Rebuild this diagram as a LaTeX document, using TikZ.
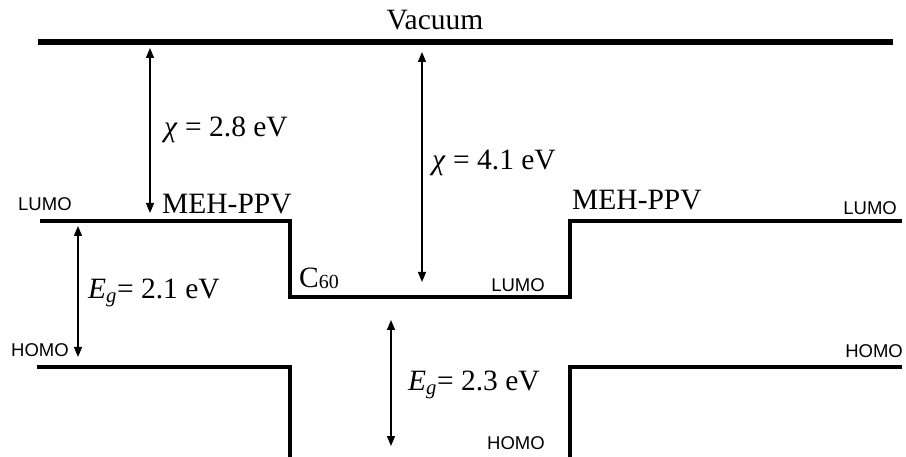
\documentclass[tikz,border=0pt]{standalone}
\usepackage{fontspec}
\setmainfont{Liberation Serif}
\newfontfamily\lvlfont{Liberation Sans}
\usetikzlibrary{arrows.meta}

\tikzset{
  level/.style={line width=3.5pt, line join=miter},
  gap/.style={line width=1.3pt, {Triangle[length=10pt,width=8pt]}-{Triangle[length=10pt,width=8pt]}},
  lbl/.style={font=\fontsize{29.5}{32}\selectfont, inner sep=0pt},
  tag/.style={font=\lvlfont\fontsize{18.5}{20}\selectfont, inner sep=0pt},
}

\begin{document}
\begin{tikzpicture}[x=1pt,y=-1pt]
    \useasboundingbox (0,0) rectangle (906,457);
    \draw[line width=5.5pt] (38,42) -- (893,42);   % vacuum
    \draw[level] (40,221) -- (290,221) -- (290,297) -- (570,297) -- (570,221) -- (902,221);  % LUMO
    \draw[level] (37,367) -- (290,367) -- (290,457);   % HOMO left
    \draw[level] (570,457) -- (570,367) -- (902,367);  % HOMO right

    \node[lbl] (vac) at (435,20) {Vacuum};
    \node[lbl, anchor=west] (chiA) at (164,130) {\textit{χ} = 2.8 eV};
    \node[lbl, anchor=west] (chiB) at (432,163) {\textit{χ} = 4.1 eV};
    \node[lbl, anchor=west] (mehL) at (162,204) {MEH-PPV};
    \node[lbl, anchor=west] (mehR) at (572,200) {MEH-PPV};
    \node[lbl, anchor=west] (cso) at (299,278) {C\raisebox{-1pt}{\fontsize{20}{21}\selectfont 60}};
    \node[lbl, anchor=west] (egA) at (88,293) {\textit{E}\textsubscript{\textit{g}}= 2.1 eV};
    \node[lbl, anchor=west] (egB) at (408,385) {\textit{E}\textsubscript{\textit{g}}= 2.3 eV};

    \node[tag, anchor=west] (lumoL) at (18,204) {LUMO};
    \node[tag, anchor=east] (lumoR) at (897,208) {LUMO};
    \node[tag, anchor=east] (lumoC) at (545,285) {LUMO};
    \node[tag, anchor=west] (homoL) at (11,350) {HOMO};
    \node[tag, anchor=east] (homoR) at (903,351) {HOMO};
    \node[tag, anchor=west] (homoC) at (487,443) {HOMO};

    \coordinate (a1) at (150,48);  \coordinate (a2) at (150,213);
    \coordinate (b1) at (422,52);  \coordinate (b2) at (422,282);
    \coordinate (c1) at (78,226);  \coordinate (c2) at (78,357);
    \coordinate (d1) at (391,320); \coordinate (d2) at (391,446);
    \draw[gap] (a1) -- (a2);
    \draw[gap] (b1) -- (b2);
    \draw[gap] (c1) -- (c2);
    \draw[gap] (d1) -- (d2);
\end{tikzpicture}
\end{document}
